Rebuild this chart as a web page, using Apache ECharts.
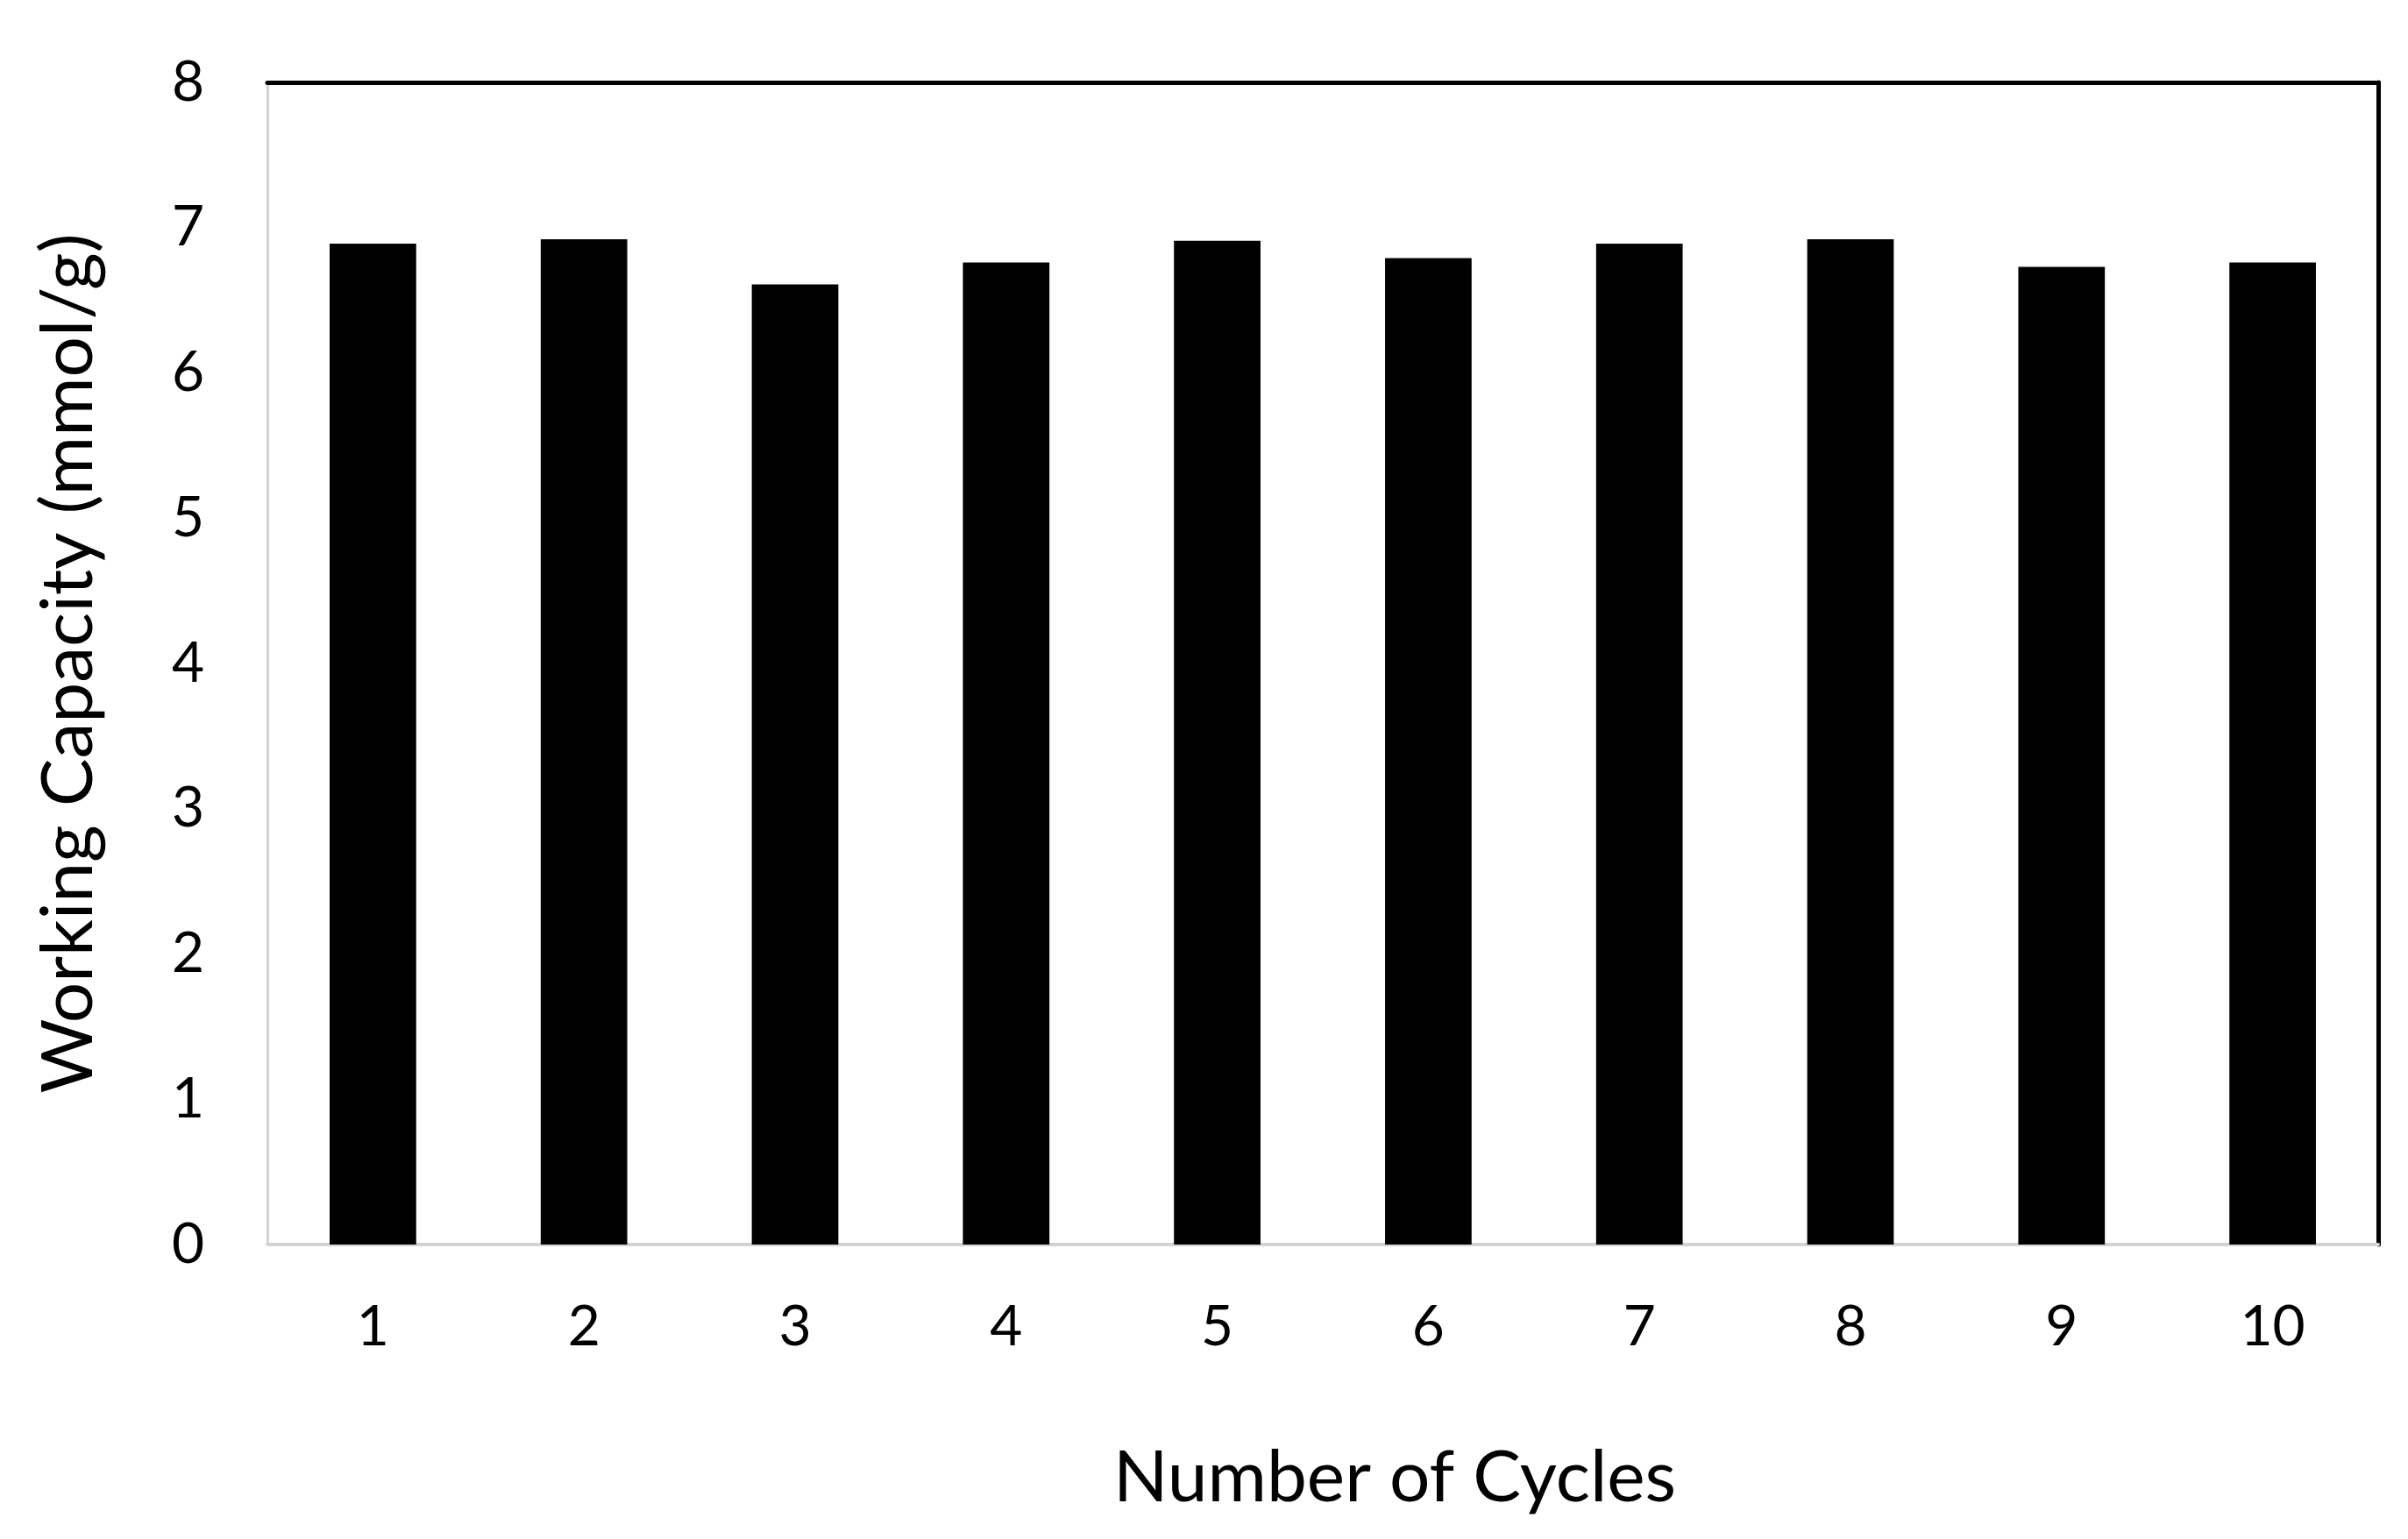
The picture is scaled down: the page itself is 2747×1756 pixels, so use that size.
<!DOCTYPE html>
<html>
<head>
<meta charset="utf-8">
<script src="https://cdn.jsdelivr.net/npm/echarts@6/dist/echarts.min.js"></script>
<style>
html,body{margin:0;padding:0;background:#fff;}
#chart{width:2747px;height:1756px;}
</style>
</head>
<body>
<div id="chart"></div>
<script>
const categories = ['1','2','3','4','5','6','7','8','9','10'];
const workingCapacity = [6.89, 6.92, 6.61, 6.76, 6.91, 6.79, 6.89, 6.92, 6.73, 6.76];
const yTicks = {min: 0, max: 8, interval: 1};
const xTitle = 'Number of Cycles';
const yTitle = 'Working Capacity (mmol/g)';

const FONT = 'Lato';
const chart = echarts.init(document.getElementById('chart'), null, {renderer: 'canvas'});
chart.setOption({
  backgroundColor: '#ffffff',
  animation: false,
  grid: {left: 305, right: 34, top: 94, bottom: 336, containLabel: false},
  xAxis: [{
    type: 'category',
    data: categories,
    position: 'bottom',
    boundaryGap: true,
    axisLine: {show: true, onZero: false, lineStyle: {color: '#d3d3d3', width: 4}},
    axisTick: {show: false},
    axisLabel: {color: '#000', fontSize: 64, fontFamily: FONT, margin: 62},
    name: xTitle,
    nameLocation: 'middle',
    nameGap: 226,
    nameTextStyle: {color: '#000', fontSize: 82, fontFamily: FONT, padding: [0, 0, 0, 164]}
  }, {
    type: 'category',
    data: categories,
    position: 'top',
    axisLine: {show: true, onZero: false, lineStyle: {color: '#000', width: 5}},
    axisTick: {show: false},
    axisLabel: {show: false}
  }],
  yAxis: [{
    type: 'value',
    min: yTicks.min, max: yTicks.max, interval: yTicks.interval,
    position: 'left',
    axisLine: {show: true, onZero: false, lineStyle: {color: '#d3d3d3', width: 3}},
    axisTick: {show: false},
    splitLine: {show: false},
    axisLabel: {color: '#000', fontSize: 64, fontFamily: FONT, margin: 72},
    name: yTitle,
    nameLocation: 'middle',
    nameGap: 185,
    nameRotate: 90,
    nameTextStyle: {color: '#000', fontSize: 82, fontFamily: FONT}
  }, {
    type: 'value',
    min: yTicks.min, max: yTicks.max, interval: yTicks.interval,
    position: 'right',
    axisLine: {show: true, onZero: false, lineStyle: {color: '#000', width: 5}},
    axisTick: {show: false},
    splitLine: {show: false},
    axisLabel: {show: false}
  }],
  series: [{
    type: 'bar',
    data: workingCapacity,
    xAxisIndex: 0,
    yAxisIndex: 0,
    barCategoryGap: '59%',
    itemStyle: {color: '#000'}
  }]
});
</script>
</body>
</html>
